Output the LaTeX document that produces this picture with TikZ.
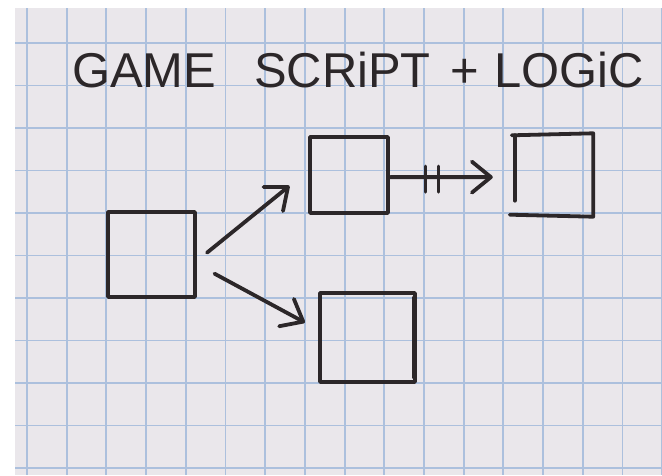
\documentclass[tikz,border=0pt]{standalone}
\usepackage{fontspec}
\setmainfont{Liberation Sans}
\usetikzlibrary{arrows.meta,calc}
\definecolor{paper}{RGB}{234,231,235}
\definecolor{gridblue}{RGB}{172,192,221}
\definecolor{ink}{RGB}{44,39,41}
\begin{document}
\begin{tikzpicture}[x=1pt,y=-1pt,
  pen/.style={draw=ink, line width=3.8pt, line cap=round, line join=round},
  card/.style={pen, rectangle, inner sep=0pt},
  flow/.style={pen, -{Straight Barb[length=19pt,width=31pt,round]}},
  tick/.style={pen, line width=3pt},
  gridline/.style={draw=gridblue, line width=1.9pt}]
\useasboundingbox (0,0) rectangle (662,475);
% sheet of squared paper on a white ground
\fill[white] (0,0) rectangle (662,475);
\fill[paper] (15,8) rectangle (662,475);
\foreach \k in {0,...,16} \draw[gridline] ({27+39.7*\k},8) -- ({27+39.7*\k},475);
\foreach \k in {0,...,10} \draw[gridline] (15,{43+42.5*\k}) -- (662,{43+42.5*\k});

% heading
\node[anchor=base west, inner sep=0pt, text=ink,
      font=\fontsize{48.9}{50}\selectfont] (title) at (72,87)
  {GAME\hspace{38pt}SCRiPT\hspace{20pt}+\hspace{15pt}LOGiC};

% boxes
\node[card, minimum width=87pt, minimum height=85pt] (start) at (151.5,254.5) {};
\node[card, minimum width=78pt, minimum height=76pt] (mid) at (349,175) {};
\node[inner sep=0pt, minimum width=80pt, minimum height=83pt] (goal) at (553,175) {};
\node[card, minimum width=95pt, minimum height=89pt] (alt) at (367.5,337.5) {};

% open-cornered outline of the right box
\draw[pen] ($(goal.north west)+(-1,2)$) -- (goal.north east) -- (goal.south east)
  -- ($(goal.south west)+(-3,-2)$);
\draw[pen] ($(goal.north west)+(2,2)$) -- ($(goal.south west)+(2,-16)$);
% retraced right side of the lower box
\draw[pen, line width=2pt] ($(alt.north east)+(-4,6)$) -- ($(alt.south east)+(-4,-6)$);

% connectors
\draw[flow, shorten <=13pt, shorten >=24pt] (start.-8) -- (mid.174);
\draw[flow, shorten <=20pt, shorten >=15pt] (start.-12) -- (alt.171);
\draw[flow, shorten >=20pt] (mid.-3) -- (goal.183);
\path (mid.-3) -- (goal.183) coordinate[pos=0.29] (t1) coordinate[pos=0.395] (t2);
\draw[tick] ($(t1)+(0,-11)$) -- ($(t1)+(0,15)$);
\draw[tick] ($(t2)+(0,-11)$) -- ($(t2)+(0,15)$);
\end{tikzpicture}
\end{document}
